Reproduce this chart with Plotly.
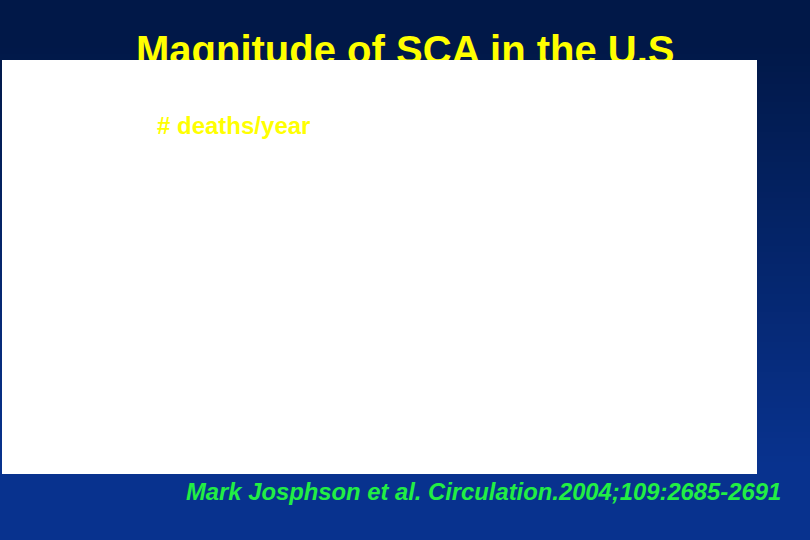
import plotly.graph_objects as go

# slide texts
slide_title = "Magnitude of SCA in the U.S"
axis_label = "# deaths/year"
citation = "Mark Josphson et al. Circulation.2004;109:2685-2691"

# the chart itself is blank in the reference: no categories, no values
categories = []
deaths_per_year = []

W, H = 810, 540
top_col = (1, 24, 72)
bot_col = (8, 50, 142)

fig = go.Figure()

fig.add_trace(go.Bar(x=categories, y=deaths_per_year, marker_color="#ffff00",
                     showlegend=False))

# title drawn as a trace so the white panel (layer above) cuts its bottom
fig.add_trace(go.Scatter(x=[136], y=[54], mode="text", text=[slide_title],
                         textposition="middle right",
                         textfont=dict(family="Liberation Sans, Arial", size=40,
                                       color="#ffff00", weight="bold"),
                         showlegend=False, hoverinfo="skip"))

shapes = []
n = 90
for i in range(n):
    y0 = H * i / n
    y1 = H * (i + 1) / n
    t = min(max((y0 - 40) / 420, 0), 1)
    c = tuple(int(round(top_col[k] + (bot_col[k] - top_col[k]) * t)) for k in range(3))
    shapes.append(dict(type="rect", xref="x", yref="y", x0=0, x1=W, y0=y0, y1=y1 + 1,
                       fillcolor="rgb(%d,%d,%d)" % c, line_width=0, layer="below"))

shapes.append(dict(type="rect", xref="x", yref="y", x0=2, x1=757, y0=60, y1=474,
                   fillcolor="white", line_width=0, layer="above"))

fig.update_layout(
    width=W, height=H,
    margin=dict(l=0, r=0, t=0, b=0),
    paper_bgcolor="rgb(1,24,72)",
    plot_bgcolor="rgba(0,0,0,0)",
    xaxis=dict(range=[0, W], visible=False, fixedrange=True),
    yaxis=dict(range=[H, 0], visible=False, fixedrange=True),
    shapes=shapes,
    annotations=[
        dict(x=155, y=125, xref="x", yref="y", text="<b>" + axis_label + "</b>",
             showarrow=False, xanchor="left", yanchor="middle",
             font=dict(family="Liberation Sans, Arial", size=24, color="#ffff00")),
        dict(x=184, y=491, xref="x", yref="y", text="<b><i>" + citation + "</i></b>",
             showarrow=False, xanchor="left", yanchor="middle",
             font=dict(family="Liberation Sans, Arial", size=23.8, color="#22ee44")),
    ],
)

fig.write_html("out.html", config={"displayModeBar": False},
               post_script="document.body.style.margin='0';")
